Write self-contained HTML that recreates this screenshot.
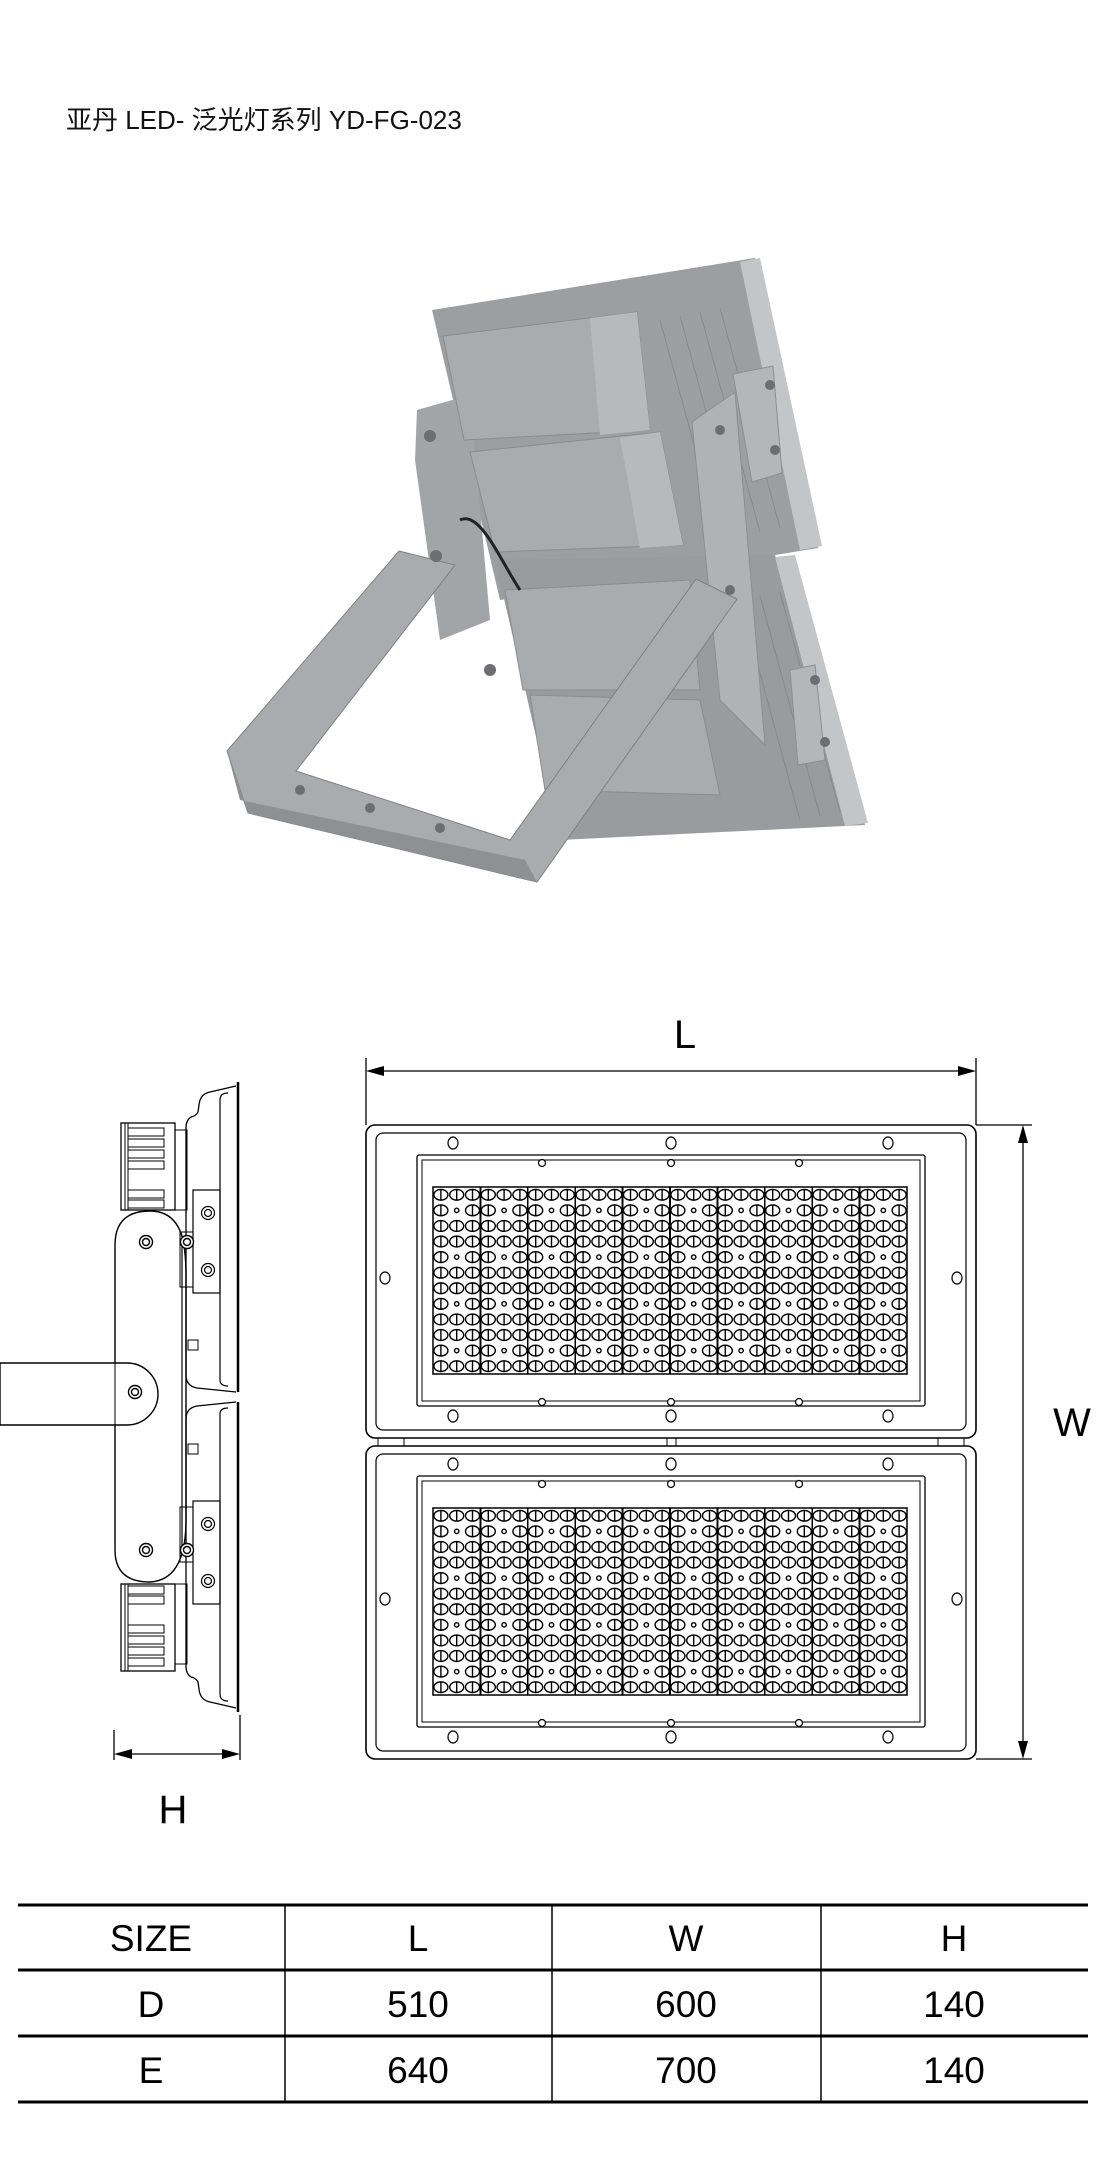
<!DOCTYPE html>
<html><head><meta charset="utf-8">
<style>
html,body{margin:0;padding:0;background:#fff;}
body{width:1102px;height:2164px;position:relative;overflow:hidden;font-family:"Liberation Sans","Noto Sans CJK SC",sans-serif;}
svg{position:absolute;left:0;top:0;}
</style></head>
<body>
<svg id="s" width="1102" height="2164" viewBox="0 0 1102 2164" xmlns="http://www.w3.org/2000/svg">
<text x="66" y="129" font-size="26" font-family="Liberation Sans, Noto Sans CJK SC, sans-serif" fill="#111">亚丹 LED- 泛光灯系列 YD-FG-023</text>

<!-- Product photo approximation -->
<g>
  <polygon points="432,310 755,258 818,548 500,600" fill="#9c9ea1"/>
  <polygon points="740,262 760,258 822,546 800,550" fill="#c4c5c7"/>
  <polygon points="495,560 775,555 865,825 560,840" fill="#999b9e"/>
  <polygon points="775,557 795,555 868,823 845,826" fill="#c4c5c7"/>
  <g stroke="#7c7e81" stroke-width="1" opacity="0.6">
    <line x1="660" y1="320" x2="720" y2="540"/><line x1="680" y1="316" x2="740" y2="536"/><line x1="700" y1="312" x2="760" y2="532"/><line x1="720" y1="308" x2="780" y2="528"/>
    <line x1="740" y1="600" x2="800" y2="820"/><line x1="760" y1="596" x2="820" y2="816"/><line x1="780" y1="592" x2="840" y2="812"/>
  </g>
  <polygon points="417,410 470,395 490,620 440,640 415,460" fill="#a2a4a7"/>
  <polygon points="443,336 637,312 650,430 464,440" fill="#a9abae" stroke="#8a8c8f"/>
  <polygon points="590,318 637,312 650,430 600,435" fill="#b8b9bb"/>
  <polygon points="470,452 660,432 683,545 495,552" fill="#a9abae" stroke="#8a8c8f"/>
  <polygon points="620,438 660,432 683,545 640,548" fill="#b8b9bb"/>
  <polygon points="505,590 690,580 700,690 523,690" fill="#a9abae" stroke="#8a8c8f"/>
  <polygon points="530,695 700,700 720,795 545,790" fill="#a9abae" stroke="#8a8c8f"/>
  <path d="M460,520 C480,510 500,560 520,590" stroke="#222" stroke-width="3" fill="none"/>
  <polygon points="692,422 735,392 765,745 720,700" fill="#b0b2b4" stroke="#8c8e91"/>
  <polygon points="733,374 773,366 782,473 752,482" fill="#b4b6b8" stroke="#8c8e91"/>
  <polygon points="790,670 815,665 825,760 798,765" fill="#b4b6b8" stroke="#8c8e91"/>
  <polygon points="399,551 455,565 296,771 510,840 696,579 737,599 537,882 248,813 227,751" fill="#a9abae" stroke="#7e8083"/>
  <polygon points="227,751 248,813 537,882 525,860 240,800" fill="#8e9093"/>
  <g fill="#6c6e71"><circle cx="430" cy="436" r="6"/><circle cx="436" cy="556" r="6"/><circle cx="490" cy="670" r="6"/><circle cx="720" cy="430" r="5"/><circle cx="770" cy="385" r="5"/><circle cx="775" cy="450" r="5"/><circle cx="730" cy="590" r="5"/><circle cx="815" cy="680" r="5"/><circle cx="825" cy="742" r="5"/>
  <circle cx="300" cy="790" r="5"/><circle cx="370" cy="808" r="5"/><circle cx="440" cy="828" r="5"/></g>
</g>

<!-- L dimension -->
<text x="685" y="1048" font-size="40" text-anchor="middle" fill="#000">L</text>
<g stroke="#000" stroke-width="1.3" fill="none">
  <line x1="366" y1="1058" x2="366" y2="1125"/>
  <line x1="976" y1="1058" x2="976" y2="1125"/>
  <line x1="372" y1="1071" x2="970" y2="1071"/>
  <line x1="976" y1="1125" x2="1032" y2="1125"/>
  <line x1="976" y1="1759" x2="1032" y2="1759"/>
  <line x1="1023" y1="1131" x2="1023" y2="1753"/>
  <line x1="114" y1="1730" x2="114" y2="1760"/>
  <line x1="240" y1="1715" x2="240" y2="1760"/>
  <line x1="120" y1="1754" x2="234" y2="1754"/>
</g>
<g fill="#000">
  <polygon points="366,1071 384,1066 384,1076"/>
  <polygon points="976,1071 958,1066 958,1076"/>
  <polygon points="1023,1125 1018,1143 1028,1143"/>
  <polygon points="1023,1759 1018,1741 1028,1741"/>
  <polygon points="114,1754 132,1749 132,1759"/>
  <polygon points="240,1754 222,1749 222,1759"/>
</g>
<text x="1072" y="1436" font-size="40" text-anchor="middle" fill="#000">W</text>
<text x="173" y="1823" font-size="40" text-anchor="middle" fill="#000">H</text>

<!-- Front modules -->
<g id="mod" stroke="#000" fill="none">
  <rect x="366" y="1125" width="610" height="313" rx="9" stroke-width="1.6"/>
  <rect x="376" y="1133" width="590" height="297" rx="7" stroke-width="1.2"/>
  <rect x="417" y="1155" width="508" height="251" rx="2" stroke-width="1.3"/>
  <rect x="422" y="1160" width="498" height="241" stroke-width="1"/>
  <rect x="433" y="1187" width="474" height="187" stroke-width="1.5"/>
  <g stroke-width="1.2" fill="#fff">
    <ellipse cx="453" cy="1143" rx="5" ry="6"/><ellipse cx="671" cy="1143" rx="5" ry="6"/><ellipse cx="888" cy="1143" rx="5" ry="6"/>
    <ellipse cx="453" cy="1416" rx="5" ry="6"/><ellipse cx="671" cy="1416" rx="5" ry="6"/><ellipse cx="888" cy="1416" rx="5" ry="6"/>
    <ellipse cx="385" cy="1278" rx="5" ry="6"/><ellipse cx="957" cy="1278" rx="5" ry="6"/>
    <circle cx="542" cy="1163" r="3.5"/><circle cx="671" cy="1163" r="3.5"/><circle cx="799" cy="1163" r="3.5"/>
    <circle cx="542" cy="1402" r="3.5"/><circle cx="671" cy="1402" r="3.5"/><circle cx="799" cy="1402" r="3.5"/>
  </g>
  <g id="leds" stroke-width="1.4"></g>
</g>
<use href="#mod" transform="translate(0,321)"/>
<g stroke="#000" stroke-width="1" fill="none">
  <rect x="378" y="1438" width="26" height="8"/><rect x="667" y="1438" width="9" height="8"/><rect x="938" y="1438" width="26" height="8"/>
</g>

<!-- Side view -->
<g id="sideHalf" stroke="#000" fill="none">
  <line x1="238" y1="1082" x2="238" y2="1392" stroke-width="2.5"/>
  <path d="M236,1086 L210,1092 Q200,1094 199,1105 L198,1112 Q196,1116 191,1117 Q186,1120 186,1128 L186,1375 Q186,1386 197,1388 L236,1392" stroke-width="1.3"/>
  <path d="M228,1093 Q220,1093 220,1100 L220,1380 Q220,1386 228,1386" stroke-width="1.2"/>
  <rect x="121" y="1123" width="54" height="87" stroke-width="1.3"/>
  <line x1="125" y1="1123" x2="125" y2="1210" stroke-width="1"/>
  <line x1="128" y1="1123" x2="128" y2="1210" stroke-width="1"/>
  <g stroke-width="1">
    <rect x="128" y="1128" width="36" height="8"/><rect x="128" y="1139" width="36" height="8"/><rect x="128" y="1150" width="36" height="8"/><rect x="128" y="1161" width="36" height="8"/>
    <rect x="128" y="1190" width="36" height="8"/><rect x="128" y="1200" width="36" height="8"/>
  </g>
  <rect x="175" y="1130" width="12" height="80" stroke-width="1"/>
  <rect x="193" y="1190" width="27" height="103" stroke-width="1.2"/>
  <rect x="180" y="1232" width="13" height="55" stroke-width="1"/>
  <rect x="188" y="1340" width="10" height="10" stroke-width="1"/>
  <g stroke-width="1.2" fill="#fff">
    <circle cx="208" cy="1213" r="6.5"/><circle cx="208" cy="1213" r="3.5"/>
    <circle cx="208" cy="1270" r="6.5"/><circle cx="208" cy="1270" r="3.5"/>
  </g>
</g>
<use href="#sideHalf" transform="translate(0,2794) scale(1,-1)"/>
<g stroke="#000" fill="#fff" stroke-width="1.4">
  <path d="M115,1420 L115,1245 Q115,1211 150,1211 Q176,1211 183,1240 Q186,1255 186,1275 L186,1520 Q186,1580 150,1582 Q115,1582 115,1550 Z" fill="none"/>
  <line x1="182" y1="1240" x2="182" y2="1552" stroke-width="1.2"/>
  <path d="M0,1363 L127,1363 A31,31 0 0 1 127,1425 L0,1425 Z" fill="#fff"/>
  <line x1="115" y1="1363" x2="115" y2="1425" stroke-width="1"/>
  <circle cx="146" cy="1242" r="6.5"/><circle cx="146" cy="1242" r="3.5"/>
  <circle cx="187" cy="1242" r="6.5"/><circle cx="187" cy="1242" r="3.5"/>
  <circle cx="135" cy="1392" r="6.5"/><circle cx="135" cy="1392" r="3.5"/>
  <circle cx="146" cy="1550" r="6.5"/><circle cx="146" cy="1550" r="3.5"/>
  <circle cx="187" cy="1550" r="6.5"/><circle cx="187" cy="1550" r="3.5"/>
</g>

<!-- Table -->
<g stroke="#000">
  <line x1="18" y1="1905" x2="1088" y2="1905" stroke-width="3"/>
  <line x1="18" y1="1970" x2="1088" y2="1970" stroke-width="3"/>
  <line x1="18" y1="2036" x2="1088" y2="2036" stroke-width="3"/>
  <line x1="18" y1="2102" x2="1088" y2="2102" stroke-width="3"/>
  <line x1="285" y1="1905" x2="285" y2="2102" stroke-width="1.5"/>
  <line x1="552" y1="1905" x2="552" y2="2102" stroke-width="1.5"/>
  <line x1="821" y1="1905" x2="821" y2="2102" stroke-width="1.5"/>
</g>
<g font-size="37" text-anchor="middle" fill="#000">
  <text x="151" y="1951">SIZE</text><text x="418" y="1951">L</text><text x="686" y="1951">W</text><text x="954" y="1951">H</text>
  <text x="151" y="2017">D</text><text x="418" y="2017">510</text><text x="686" y="2017">600</text><text x="954" y="2017">140</text>
  <text x="151" y="2083">E</text><text x="418" y="2083">640</text><text x="686" y="2083">700</text><text x="954" y="2083">140</text>
</g>
</svg>
<script>
(function(){
var g=document.getElementById('leds'),h='';
var x0=433,y0=1187,sw=47.4,rh=15.58;
for(var r=0;r<12;r++){
  var dot=(r%3===1);
  var cy=y0+rh*(r+0.5);
  for(var s=0;s<10;s++){
    if(s>0)h+='<line x1="'+(x0+s*sw)+'" y1="'+y0+'" x2="'+(x0+s*sw)+'" y2="'+(y0+187)+'"/>';
    for(var k=0;k<3;k++){
      var cx=x0+s*sw+sw*(k+0.5)/3;
      if(dot&&k===1){h+='<circle cx="'+cx+'" cy="'+cy+'" r="2.2"/>';}
      else{h+='<ellipse cx="'+cx+'" cy="'+cy+'" rx="7" ry="5.4"/><line x1="'+cx+'" y1="'+(cy-5.4)+'" x2="'+cx+'" y2="'+(cy+5.4)+'"/>';}
    }
  }
}
g.innerHTML=h;
})();
</script>
</body></html>
